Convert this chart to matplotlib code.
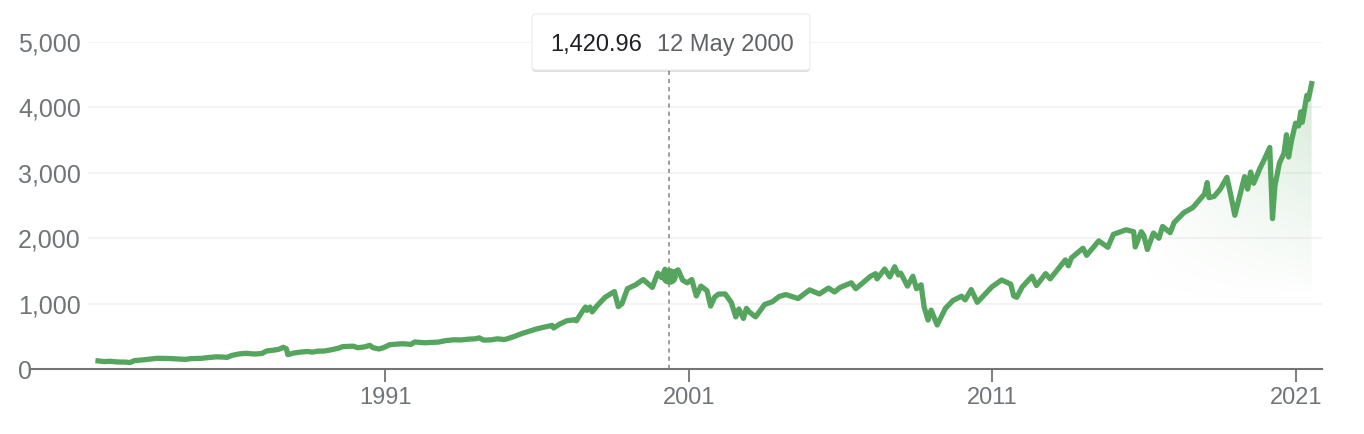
import numpy as np
import matplotlib.pyplot as plt
from matplotlib.patches import FancyBboxPatch
from matplotlib.transforms import IdentityTransform

plt.rcParams['font.family'] = ['Liberation Sans', 'DejaVu Sans']

# index level (decimal year, value)
years = [1981.55, 1981.75, 1981.95, 1982.2, 1982.45, 1982.6, 1982.75, 1982.95,
         1983.2, 1983.5, 1983.75, 1983.95, 1984.2, 1984.45, 1984.6, 1984.8, 1984.95,
         1985.2, 1985.45, 1985.65, 1985.8, 1985.95, 1986.2, 1986.45, 1986.6, 1986.75,
         1986.95, 1987.1, 1987.3, 1987.5, 1987.65, 1987.75, 1987.8, 1987.9, 1987.98,
         1988.2, 1988.45, 1988.6, 1988.8, 1988.98, 1989.2, 1989.45, 1989.6, 1989.78,
         1989.95, 1990.1, 1990.3, 1990.5, 1990.6, 1990.8, 1990.95, 1991.15, 1991.4,
         1991.6, 1991.85, 1991.98, 1992.3, 1992.5, 1992.75, 1992.98, 1993.25, 1993.5,
         1993.75, 1993.98, 1994.1, 1994.25, 1994.5, 1994.7, 1994.9, 1994.98, 1995.25,
         1995.5, 1995.75, 1995.98, 1996.25, 1996.5, 1996.55, 1996.75, 1996.98, 1997.25,
         1997.3, 1997.5, 1997.6, 1997.65, 1997.75, 1997.82, 1997.98, 1998.25, 1998.55,
         1998.68, 1998.8, 1998.98, 1999.25, 1999.5, 1999.8, 1999.98, 2000.1, 2000.22,
         2000.36, 2000.45, 2000.65, 2000.8, 2000.95, 2001.1, 2001.25, 2001.4, 2001.6,
         2001.72, 2001.85, 2001.98, 2002.2, 2002.4, 2002.55, 2002.65, 2002.8, 2002.9,
         2002.98, 2003.2, 2003.5, 2003.75, 2003.98, 2004.2, 2004.6, 2004.98, 2005.3,
         2005.6, 2005.8, 2005.98, 2006.35, 2006.5, 2006.98, 2007.15, 2007.2, 2007.45,
         2007.62, 2007.78, 2007.9, 2007.98, 2008.2, 2008.38, 2008.5, 2008.65, 2008.75,
         2008.88, 2008.98, 2009.18, 2009.45, 2009.7, 2009.98, 2010.1, 2010.3, 2010.5,
         2010.7, 2010.98, 2011.3, 2011.6, 2011.7, 2011.8, 2011.98, 2012.3, 2012.45,
         2012.75, 2012.9, 2012.98, 2013.4, 2013.5, 2013.6, 2013.98, 2014.1, 2014.5,
         2014.8, 2014.98, 2015.4, 2015.65, 2015.7, 2015.9, 2015.98, 2016.1, 2016.3,
         2016.48, 2016.6, 2016.85, 2016.98, 2017.3, 2017.6, 2017.98, 2018.07, 2018.13,
         2018.3, 2018.5, 2018.72, 2018.85, 2018.98, 2019.3, 2019.4, 2019.5, 2019.6,
         2019.8, 2019.98, 2020.13, 2020.22, 2020.3, 2020.45, 2020.6, 2020.68, 2020.75,
         2020.85, 2020.98, 2021.08, 2021.15, 2021.2, 2021.35, 2021.4, 2021.51]
values = [128, 118, 122, 112, 110, 103, 133, 140,
          152, 168, 166, 164, 157, 152, 163, 166, 167,
          180, 190, 187, 182, 211, 235, 245, 236, 234,
          242, 280, 290, 305, 335, 315, 225, 235, 247,
          262, 272, 262, 278, 278, 295, 320, 345, 350,
          353, 330, 340, 365, 330, 310, 330, 375, 385,
          390, 380, 417, 405, 410, 415, 436, 450, 448,
          460, 466, 480, 445, 450, 465, 455, 459, 500,
          545, 582, 615, 645, 670, 630, 690, 740, 757,
          740, 885, 950, 900, 950, 876, 970, 1100, 1186,
          957, 1000, 1229, 1290, 1370, 1250, 1469, 1400, 1527,
          1421, 1460, 1518, 1360, 1320, 1370, 1120, 1270, 1200,
          965, 1100, 1148, 1150, 1020, 800, 920, 776, 930,
          880, 800, 990, 1030, 1112, 1140, 1080, 1212, 1150,
          1240, 1180, 1248, 1320, 1230, 1418, 1460, 1380, 1530,
          1410, 1565, 1440, 1468, 1270, 1420, 1230, 1290, 950,
          752, 903, 676, 930, 1050, 1115, 1060, 1217, 1022,
          1120, 1258, 1363, 1300, 1120, 1099, 1257, 1419, 1278,
          1460, 1380, 1426, 1670, 1580, 1700, 1848, 1740, 1960,
          1862, 2059, 2130, 2100, 1867, 2100, 2044, 1829, 2080,
          2000, 2180, 2085, 2239, 2390, 2470, 2674, 2850, 2620,
          2640, 2750, 2930, 2650, 2351, 2940, 2750, 3010, 2840,
          3060, 3231, 3386, 2300, 2800, 3150, 3300, 3580, 3240,
          3500, 3756, 3714, 3930, 3770, 4180, 4120, 4360]

y_ticks = [0, 1000, 2000, 3000, 4000, 5000]
x_ticks = [1991, 2001, 2011, 2021]
hover_year = 2000.36
hover_value = 1420.96
hover_date = "12 May 2000"

green = '#55a55e'
grey = '#70757a'

W, H = 1364, 434
fig = plt.figure(figsize=(W / 100, H / 100), dpi=100)


def fx(px):
    return px / W


def fy(py):
    return 1 - py / H


ax = fig.add_axes([fx(88), fy(369.3), fx(1322) - fx(88), fy(41.7) - fy(369.3)])

# soft gradient under the recent part of the line
fill = ax.fill_between(years, values, 0, color='none', lw=0)
gx = np.linspace(2015, 2021.6, 300)
gy = np.linspace(0, 4500, 200)
a_x = np.clip((gx - 2015.8) / 5.7, 0, 1) ** 0.8
a_y = np.clip((gy - 1000) / 3400, 0, 1)
rgba = np.zeros((len(gy), len(gx), 4))
rgba[..., 0] = 0x55 / 255
rgba[..., 1] = 0xa5 / 255
rgba[..., 2] = 0x5e / 255
rgba[..., 3] = a_y[:, None] * a_x[None, :] * 0.24
im = ax.imshow(rgba, extent=[2015, 2021.6, 0, 4500], origin='lower', aspect='auto', zorder=1)
im.set_clip_path(fill.get_paths()[0], transform=ax.transData)

ax.plot(years, values, color=green, lw=3.8, solid_joinstyle='round', zorder=3)

# hover marker and dotted guide
top_val = (369.3 - 70) / ((369.3 - 41.7) / 5000)
ax.plot([hover_year, hover_year], [0, top_val], color='#9aa0a6', lw=1.4,
        linestyle=(0, (2.2, 2.0)), zorder=2, clip_on=False)
ax.plot(hover_year, hover_value, 'o', ms=11, color=green, zorder=4)

ax.set_xlim(1981.22, 2021.85)
ax.set_ylim(0, 5000)

for s in ax.spines.values():
    s.set_visible(False)

ax.set_yticks(y_ticks)
ax.set_yticklabels([f"{v:,}" for v in y_ticks])
ax.tick_params(axis='y', length=0, pad=50.4, labelsize=18, labelcolor=grey)
for lbl in ax.get_yticklabels():
    lbl.set_horizontalalignment('left')
ax.grid(axis='y', color='#f1f1f1', lw=1.1)
ax.set_axisbelow(True)

ax.set_xticks(x_ticks)
ax.set_xticklabels([str(x) for x in x_ticks])
ax.tick_params(axis='x', length=9.4, width=1.3, color=grey, labelsize=17,
               labelcolor=grey, pad=3.5)

# baseline runs left to the "0" label
ax.plot([(32 - 88) / (1322 - 88), 1], [0, 0], color='#757575', lw=1.5,
        transform=ax.get_yaxis_transform(), clip_on=False, zorder=5)

# tooltip
shadow = FancyBboxPatch((532, H - 72), 278, 57, boxstyle='round,pad=0,rounding_size=4',
                        transform=IdentityTransform(), facecolor='#000000', alpha=0.12,
                        edgecolor='none', zorder=9)
box = FancyBboxPatch((532, H - 70), 278, 56, boxstyle='round,pad=0,rounding_size=4',
                     transform=IdentityTransform(), facecolor='white',
                     edgecolor='#e6e6e6', lw=0.6, zorder=10)
fig.patches.extend([shadow, box])
fig.text(fx(550), fy(51), f"{hover_value:,.2f}", fontsize=17, color='#202124',
         va='baseline', ha='left', zorder=11)
fig.text(fx(656.7), fy(51), hover_date, fontsize=17, color='#5f6368',
         va='baseline', ha='left', zorder=11)

fig.savefig('out.png', dpi=100)
